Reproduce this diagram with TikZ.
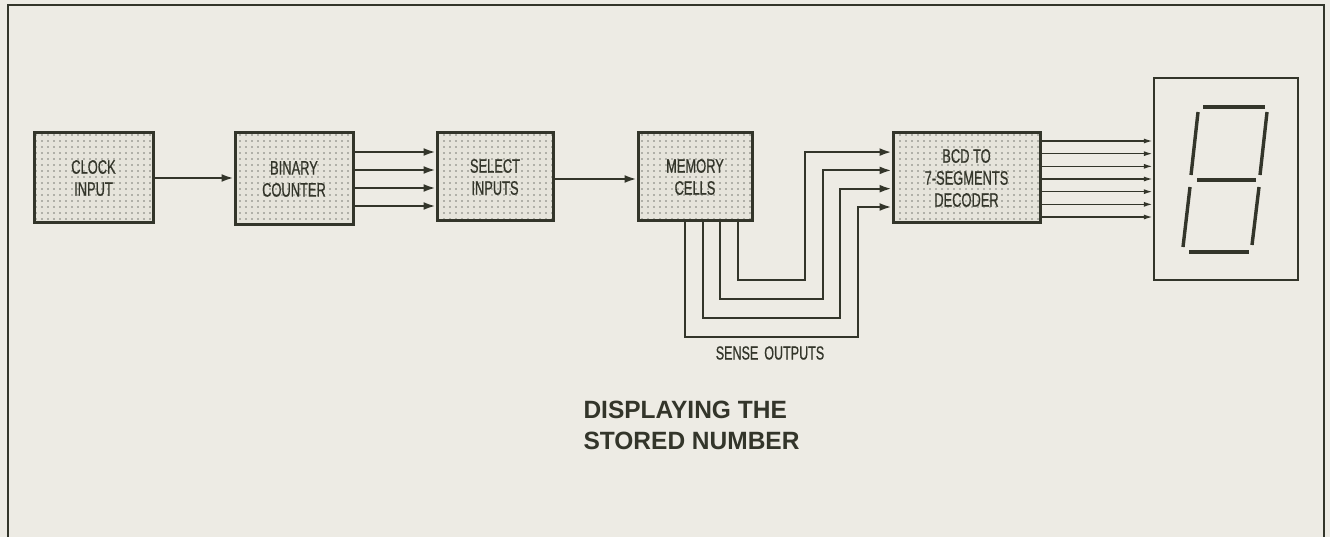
\documentclass[tikz,border=0pt]{standalone}
\usepackage{fontspec}
\usepackage{tikz}
\usetikzlibrary{arrows.meta,patterns.meta}
\newfontfamily\boxfont[FakeStretch=0.66,FakeBold=0.6]{Liberation Sans}
\newfontfamily\headfont[FakeStretch=0.98]{Liberation Sans}
\definecolor{ink}{HTML}{33352A}
\definecolor{paper}{HTML}{EDEBE4}
\definecolor{boxfill}{HTML}{E6E4DB}

\begin{document}
\begin{tikzpicture}[
  x=1pt, y=-1pt,
  box/.style={draw=ink, line width=3pt, preaction={fill=boxfill},
    pattern={Dots[distance=6pt, radius=.9pt]}, pattern color=ink!65,
    align=center, inner sep=0pt,
    font=\boxfont\fontsize{19.5}{22}\selectfont, text=ink},
  sig/.style={draw=ink, line width=2.1pt, -{Latex[length=12pt, width=8pt]}},
  seg/.style={draw=ink, line width=1.6pt, -{Latex[length=9pt, width=5pt]}},
  bar/.style={draw=ink, line width=3.4pt}
]
\useasboundingbox[fill=paper] (0,0) rectangle (1330,537);
\draw[ink, line width=2.4pt] (8,537) -- (8,5) -- (1324,5) -- (1324,537);

\node[box, minimum width=119pt, minimum height=90pt] (clock) at (93.5,178) {CLOCK\\INPUT};
\node[box, minimum width=118pt, minimum height=92pt] (counter) at (294,179) {BINARY\\COUNTER};
\node[box, minimum width=116pt, minimum height=88pt] (select) at (495,177) {SELECT\\INPUTS};
\node[box, minimum width=114pt, minimum height=88pt] (memory) at (695,177) {MEMORY\\CELLS};
\node[box, minimum width=147pt, minimum height=90pt] (decoder) at (966.5,178) {BCD TO\\7-SEGMENTS\\DECODER};
\node[draw=ink, line width=2.2pt, minimum width=144pt, minimum height=202pt, inner sep=0pt] (display) at (1226,179) {};

\draw[sig] (clock.east) -- (clock.east -| counter.west);
\foreach \i in {0,...,3}
  \draw[sig] ([yshift={(27-18*\i)*1pt}]counter.east) -- ([yshift={(27-18*\i)*1pt}]counter.east -| select.west);
\draw[sig] ([yshift=-2pt]select.east) -- ([yshift=-2pt]select.east -| memory.west);

\foreach \i in {0,...,3}
  \draw[sig] ([xshift={(-10+17.7*\i)*1pt}]memory.south)
    |- ({858-17.7*\i},{337-19*\i})
    |- ([yshift={(-29+18.3*\i)*1pt}]decoder.west);
\node[font=\boxfont\fontsize{19}{22}\selectfont, text=ink] (sense) at (770,353) {SENSE\hspace{6pt}OUTPUTS};

\foreach \i in {0,...,6}
  \draw[seg] ([yshift={(37-12.67*\i)*1pt}]decoder.east) -- ([yshift={(37-12.67*\i)*1pt}]decoder.east -| display.west);

\draw[bar] (1203,107) -- (1265,107);
\draw[bar] (1198,112) -- (1191,175);
\draw[bar] (1267,112) -- (1260,175);
\draw[bar] (1197,180) -- (1256,180);
\draw[bar] (1190,187) -- (1183,247);
\draw[bar] (1259,187) -- (1252,245);
\draw[bar] (1189,252) -- (1249,252);

\node[anchor=north west, align=left, text=ink,
  font=\headfont\bfseries\fontsize{25}{31}\selectfont] (title) at (580,398)
  {DISPLAYING THE\\STORED NUMBER};
\end{tikzpicture}
\end{document}
